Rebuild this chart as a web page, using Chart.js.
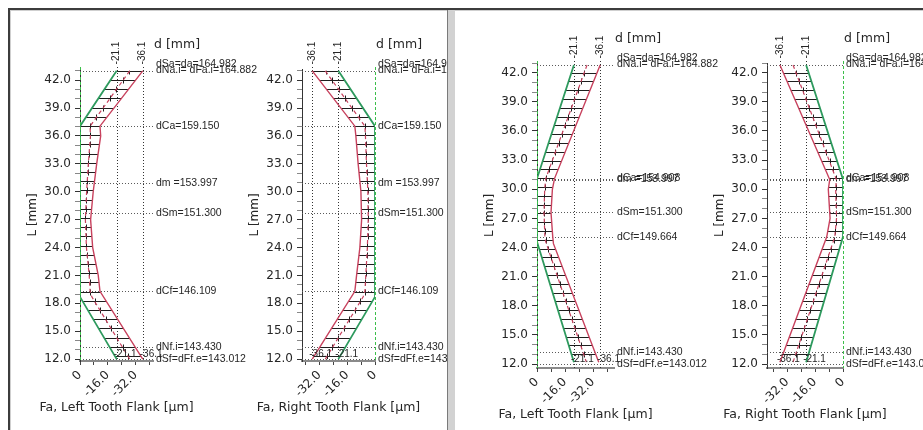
<!DOCTYPE html>
<html>
<head>
<meta charset="utf-8">
<script src="https://cdn.jsdelivr.net/npm/chart.js@4.4.0/dist/chart.umd.min.js"></script>
<style>
  body { margin: 0; background: #fff; width: 923px; height: 430px; overflow: hidden; position: relative; }
  .line { position: absolute; }
  .panel { position: absolute; top: 11px; height: 419px; overflow: hidden; background: #fff; }
  .panel canvas { position: absolute; top: -11px; }
</style>
</head>
<body>
<div class="line" style="left:8px;top:8px;width:915px;height:2px;background:#3c3c3c"></div>
<div class="line" style="left:8px;top:8px;width:2px;height:422px;background:#3c3c3c"></div>
<div class="line" style="left:10px;top:10px;width:913px;height:1px;background:#cfcfcf"></div>
<div class="line" style="left:10px;top:10px;width:1px;height:420px;background:#cfcfcf"></div>
<div class="panel" style="left:11px;width:436px">
  <canvas id="chartA" width="300" height="430" style="left:-11px"></canvas>
  <canvas id="chartB" width="300" height="430" style="left:211px"></canvas>
</div>
<div class="line" style="left:447px;top:10px;width:1px;height:420px;background:#7a7a7a"></div>
<div class="line" style="left:448px;top:10px;width:7px;height:420px;background:#d2d2d2"></div>
<div class="panel" style="left:455px;width:468px">
  <canvas id="chartC" width="300" height="430" style="left:2px"></canvas>
  <canvas id="chartD" width="300" height="430" style="left:232px"></canvas>
</div>

<script>
// tolerance limits of Fa [µm]
const tolValues = [-21.1, -36.1];

/** left panel, left flank: L [mm] / Fa [µm] **/
const aGreenL  = [43.0, 37.05, 18.7, 12.0];
const aGreenFa = [-21.1, 0, 0, -21.1];
const aRedL    = [43.0, 37.05, 36.0, 33.0, 30.0, 27.0, 24.0, 21.0, 19.3, 12.0];
const aRedFa   = [-36.1, -11.5, -11.9, -9.6, -7.6, -6.1, -7.3, -10.5, -11.5, -36.1];
const aMidL    = [43.0, 37.05, 36.0, 33.0, 30.0, 27.0, 24.0, 21.0, 19.3, 18.7, 12.0];
const aMidFa   = [-28.6, -5.8, -6.0, -4.8, -3.8, -3.1, -3.7, -5.3, -5.8, -6.8, -28.6];

/** left panel, right flank **/
const bGreenL  = [43.0, 37.05, 18.7, 12.0];
const bGreenFa = [-21.1, 0, 0, -21.1];
const bRedL    = [43.0, 37.05, 36.0, 33.0, 30.0, 27.0, 24.0, 21.0, 19.3, 12.0];
const bRedFa   = [-36.1, -11.6, -11.0, -9.7, -8.1, -7.7, -8.7, -10.6, -11.6, -36.1];
const bMidL    = [43.0, 37.05, 36.0, 33.0, 30.0, 27.0, 24.0, 21.0, 19.3, 18.7, 12.0];
const bMidFa   = [-28.6, -5.8, -5.5, -4.9, -4.1, -3.9, -4.4, -5.3, -5.8, -6.8, -28.6];

/** right panel, left flank **/
const cGreenL  = [42.8, 31.1, 24.6, 12.2];
const cGreenFa = [-21.1, 0, 0, -21.1];
const cRedL    = [42.8, 31.1, 30.0, 27.6, 25.1, 24.4, 12.2];
const cRedFa   = [-36.1, -10.0, -8.8, -8.0, -9.0, -9.4, -35.3];
const cMidL    = [42.8, 31.1, 30.0, 27.6, 25.1, 24.6, 12.2];
const cMidFa   = [-28.6, -5.0, -4.4, -4.0, -4.5, -5.0, -28.2];

/** right panel, right flank **/
const dGreenL  = [42.8, 31.0, 25.1, 12.2];
const dGreenFa = [-21.1, 0, 0, -21.1];
const dRedL    = [42.8, 31.0, 30.0, 27.0, 25.1, 12.2];
const dRedFa   = [-36.1, -7.6, -8.4, -7.4, -9.3, -36.1];
const dMidL    = [42.8, 31.0, 30.0, 27.0, 25.1, 12.2];
const dMidFa   = [-28.6, -3.8, -4.2, -3.7, -4.7, -28.6];

// diameters marked along the flank
const leftMarkL = [43.0, 43.0, 37.05, 30.95, 27.7, 19.3, 13.3, 12.0];
const leftMarkText = ['dSa=da=164.982', 'dNa.i= dFa.i=164.882', 'dCa=159.150', 'dm =153.997',
  'dSm=151.300', 'dCf=146.109', 'dNf.i=143.430', 'dSf=dFf.e=143.012'];
const rightMarkL = [42.8, 42.8, 31.1, 31.0, 27.7, 25.1, 13.2, 12.0];
const rightMarkText = ['dSa=da=164.982', 'dNa.i= dFa.i=164.882', 'dCa=154.908', 'dm =153.997',
  'dSm=151.300', 'dCf=149.664', 'dNf.i=143.430', 'dSf=dFf.e=143.012'];

const GREEN = '#2e9a5e';
const RED = '#c8425e';
const TXT = '#262626';

function pts(L, fa) {
  return L.map((l, i) => ({ x: fa[i], y: l }));
}

function dotted(ctx, x1, y1, x2, y2, color) {
  ctx.save();
  ctx.strokeStyle = color;
  ctx.lineWidth = 1;
  ctx.setLineDash([1, 2]);
  ctx.beginPath();
  ctx.moveTo(x1, y1);
  ctx.lineTo(x2, y2);
  ctx.stroke();
  ctx.restore();
}

const deco = {
  id: 'deco',
  beforeDatasetsDraw(chart, args, o) {
    const ctx = chart.ctx, a = chart.chartArea, xs = chart.scales.x, ys = chart.scales.y;
    o.marksL.forEach(l => {
      const y = Math.round(ys.getPixelForValue(l)) + 0.5;
      dotted(ctx, a.left, y, a.right, y, '#5a5a5a');
    });
    o.tol.forEach(t => {
      const x = Math.round(xs.getPixelForValue(t)) + 0.5;
      dotted(ctx, x, a.top - 2, x, a.bottom, '#333');
    });

    // hatched band between the two limits
    const g = chart.getDatasetMeta(0).data;
    const r = chart.getDatasetMeta(1).data;
    const m = chart.getDatasetMeta(2).data;
    ctx.save();
    ctx.beginPath();
    g.forEach((p, i) => i ? ctx.lineTo(p.x, p.y) : ctx.moveTo(p.x, p.y));
    for (let i = r.length - 1; i >= 0; i--) ctx.lineTo(r[i].x, r[i].y);
    ctx.closePath();
    ctx.clip();
    ctx.strokeStyle = '#1e1e1e';
    ctx.lineWidth = 1;
    ctx.beginPath();
    for (let y = a.bottom - 5; y > a.top; y -= o.hatch) {
      const yy = Math.round(y) + 0.5;
      ctx.moveTo(a.left, yy);
      ctx.lineTo(a.right, yy);
      for (let i = 0; i < m.length - 1; i++) {
        const p = m[i], q = m[i + 1];
        if (p.y !== q.y && (yy - p.y) * (yy - q.y) <= 0) {
          const x = Math.round(p.x + (q.x - p.x) * (yy - p.y) / (q.y - p.y)) + 0.5;
          ctx.moveTo(x, yy - 3);
          ctx.lineTo(x, yy + 3);
          break;
        }
      }
    }
    ctx.stroke();
    ctx.restore();
  },
  afterDatasetsDraw(chart) {
    const ctx = chart.ctx, a = chart.chartArea;
    const x = Math.round(chart.scales.x.getPixelForValue(0)) + 0.5;
    ctx.save();
    ctx.strokeStyle = '#3cbf4a';
    ctx.lineWidth = 1;
    ctx.setLineDash([3, 2]);
    ctx.beginPath();
    ctx.moveTo(x, a.top - 2);
    ctx.lineTo(x, a.bottom);
    ctx.stroke();
    ctx.restore();
  },
  afterDraw(chart, args, o) {
    const ctx = chart.ctx, a = chart.chartArea, xs = chart.scales.x, ys = chart.scales.y;
    ctx.save();
    ctx.fillStyle = TXT;
    ctx.textBaseline = 'middle';
    ctx.textAlign = 'left';
    ctx.font = '10.5px "Liberation Sans"';
    o.marksL.forEach((l, i) => {
      const y = ys.getPixelForValue(l);
      const dy = o.marksL[i + 1] === l ? -7 : (o.marksL[i - 1] === l ? -1 : 0);
      ctx.fillText(o.marksText[i], a.right + 3, y + dy);
    });
    ctx.font = '12.5px "DejaVu Sans"';
    ctx.fillText('d [mm]', a.right + 1, a.top - 24);

    // axis title under the rotated tick labels
    ctx.textAlign = 'center';
    ctx.fillText(o.title, (a.left + a.right) / 2, o.titleY);

    ctx.textAlign = 'left';
    ctx.font = '10px "Liberation Sans"';
    const yLow = ys.getPixelForValue(o.marksL[o.marksL.length - 1]) - 5;
    o.tol.forEach(t => {
      const x = xs.getPixelForValue(t);
      ctx.save();
      ctx.translate(x, a.top - 16);
      ctx.rotate(-Math.PI / 2);
      ctx.textAlign = 'center';
      ctx.fillText(t.toFixed(1), 0, 0);
      ctx.restore();
      ctx.fillText(t.toFixed(1), x - 3, yLow);
    });
    ctx.restore();
  }
};

function makeChart(id, c) {
  const font = { family: 'DejaVu Sans', size: 12 };
  const line = { showLine: true, pointRadius: 0, fill: false, tension: 0 };
  return new Chart(document.getElementById(id), {
    type: 'scatter',
    data: {
      datasets: [
        Object.assign({ data: pts(c.greenL, c.greenFa), borderColor: GREEN, borderWidth: 1.8 }, line),
        Object.assign({ data: pts(c.redL, c.redFa), borderColor: RED, borderWidth: 1.4 }, line),
        Object.assign({ data: pts(c.midL, c.midFa), borderColor: RED, borderWidth: 1.2, borderDash: [4, 3] }, line)
      ]
    },
    options: {
      responsive: false,
      animation: false,
      layout: { padding: { left: 0, top: c.top, right: c.padRight, bottom: 0 } },
      plugins: {
        legend: false,
        tooltip: { enabled: false },
        deco: { marksL: c.marksL, marksText: c.marksText, tol: tolValues, hatch: c.hatch,
          title: c.xTitle, titleY: c.titleY }
      },
      scales: {
        x: {
          type: 'linear',
          min: c.xMin,
          max: 0,
          reverse: c.reverse,
          afterFit: s => { s.height = c.xH; },
          border: { color: '#8a8a8a', width: 2 },
          grid: { drawOnChartArea: false, tickLength: 4, color: '#444' },
          ticks: {
            stepSize: 8,
            includeBounds: false,
            autoSkip: false,
            minRotation: 45,
            maxRotation: 45,
            color: TXT,
            font: font,
            callback: v => v === 0 ? '0' : (v % 16 === 0 ? v.toFixed(1) : '')
          }
        },
        y: {
          type: 'linear',
          min: c.yMin,
          max: c.yMax,
          afterFit: s => { s.width = 80; },
          border: { color: '#333', width: 1 },
          grid: {
            drawOnChartArea: false,
            tickLength: 5,
            tickColor: ctx => (ctx.tick && Math.round(ctx.tick.value) % 3 === 0) ? '#333' : '#888'
          },
          ticks: {
            stepSize: 1,
            includeBounds: false,
            autoSkip: false,
            padding: 4,
            color: TXT,
            font: font,
            callback: v => Math.round(v) % 3 === 0 ? v.toFixed(1) : ''
          },
          title: { display: true, text: 'L [mm]', color: TXT, font: font, padding: { top: 26, bottom: 0 } }
        }
      }
    },
    plugins: [deco]
  });
}

const leftFrame = { top: 69, yMin: 11.8, yMax: 43.2, xH: 69, titleY: 408, hatch: 9.2,
  marksL: leftMarkL, marksText: leftMarkText };
const rightFrame = { top: 63, yMin: 11.6, yMax: 43.0, xH: 62, titleY: 415, hatch: 8.8,
  marksL: rightMarkL, marksText: rightMarkText };

const chartA = makeChart('chartA', Object.assign({}, leftFrame, {
  greenL: aGreenL, greenFa: aGreenFa, redL: aRedL, redFa: aRedFa, midL: aMidL, midFa: aMidFa,
  xMin: -42, reverse: true, padRight: 147, xTitle: 'Fa, Left Tooth Flank [µm]'
}));
const chartB = makeChart('chartB', Object.assign({}, leftFrame, {
  greenL: bGreenL, greenFa: bGreenFa, redL: bRedL, redFa: bRedFa, midL: bMidL, midFa: bMidFa,
  xMin: -42, reverse: false, padRight: 147, xTitle: 'Fa, Right Tooth Flank [µm]'
}));
const chartC = makeChart('chartC', Object.assign({}, rightFrame, {
  greenL: cGreenL, greenFa: cGreenFa, redL: cRedL, redFa: cRedFa, midL: cMidL, midFa: cMidFa,
  xMin: -44, reverse: true, padRight: 143, xTitle: 'Fa, Left Tooth Flank [µm]'
}));
const chartD = makeChart('chartD', Object.assign({}, rightFrame, {
  greenL: dGreenL, greenFa: dGreenFa, redL: dRedL, redFa: dRedFa, midL: dMidL, midFa: dMidFa,
  xMin: -43.5, reverse: false, padRight: 144, xTitle: 'Fa, Right Tooth Flank [µm]'
}));
</script>
</body>
</html>
